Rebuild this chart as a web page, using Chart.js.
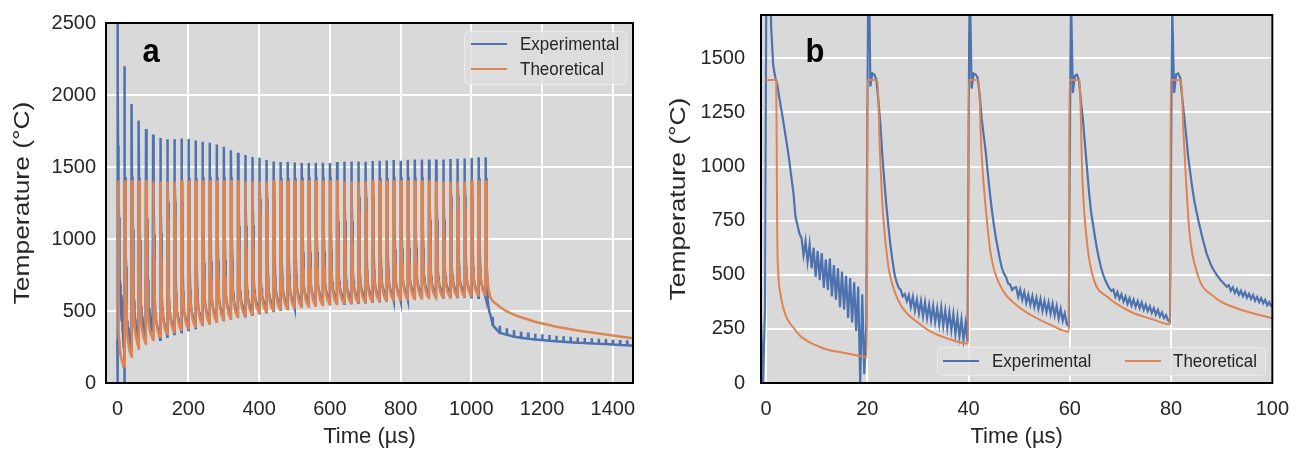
<!DOCTYPE html>
<html>
<head>
<meta charset="utf-8">
<script src="https://cdn.jsdelivr.net/npm/chart.js@4.4.0/dist/chart.umd.min.js"></script>
<style>
html, body { margin: 0; padding: 0; background: #fff; }
#wrap { position: relative; width: 1303px; height: 451px; }
canvas { position: absolute; top: 0; }
#chart-a { left: 0; }
#chart-b { left: 650px; }
</style>
</head>
<body>
<div id="wrap">
  <canvas id="chart-a" width="650" height="451"></canvas>
  <canvas id="chart-b" width="653" height="451"></canvas>
</div>
<script>
// ---- panel b: experimental trace, one sample every 0.4 us starting at -1 us
var bExpStart = -1, bExpStep = 0.4;
var bExp = [
  300, 0, 350, 2750, 2100, 1650, 1470, 1415, 1380, 1320,      // -1.0 ..
  1265, 1210, 1150, 1090, 1025, 950, 880, 770, 730, 690,      // 3.0 ..
  670, 590, 655, 560, 640, 530, 625, 490, 610, 475,           // 7.0 ..
  600, 440, 570, 430, 575, 400, 545, 385, 530, 350,           // 11.0 ..
  515, 340, 495, 300, 485, 280, 465, 240, 445, 0,             // 15.0 ..
  410, 40, 270, 2200, 1370, 1430, 1425, 1400, 1300, 1190,     // 19.0 ..
  1040, 920, 810, 715, 630, 560, 500, 465, 440, 430,          // 23.0 ..
  400, 410, 378, 405, 352, 398, 335, 385, 322, 378,           // 27.0 ..
  308, 372, 300, 360, 290, 355, 282, 345, 272, 348,           // 31.0 ..
  265, 335, 255, 325, 245, 318, 228, 305, 215, 292,           // 35.0 ..
  200, 275, 190, 1937, 1360, 1430, 1425, 1410, 1330, 1220,    // 39.0 ..
  1140, 1065, 970, 880, 800, 730, 670, 620, 570, 530,         // 43.0 ..
  505, 490, 460, 455, 430, 440, 442, 398, 432, 384,           // 47.0 ..
  420, 370, 408, 362, 402, 352, 394, 343, 388, 334,           // 51.0 ..
  378, 328, 372, 320, 366, 312, 356, 298, 342, 288,           // 55.0 ..
  322, 272, 262, 1822, 1340, 1420, 1425, 1400, 1300, 1215,    // 59.0 ..
  1100, 990, 880, 790, 730, 670, 615, 570, 530, 500,          // 63.0 ..
  475, 455, 438, 425, 432, 398, 420, 388, 410, 376,           // 67.0 ..
  400, 366, 392, 358, 385, 352, 378, 346, 372, 338,           // 71.0 ..
  362, 332, 354, 324, 346, 316, 338, 308, 326, 300,           // 75.0 ..
  314, 290, 282, 1764, 1340, 1425, 1430, 1410, 1320, 1230,    // 79.0 ..
  1140, 1040, 970, 900, 840, 795, 750, 710, 670, 635,         // 83.0 ..
  600, 575, 550, 530, 515, 500, 488, 475, 465, 455,           // 87.0 ..
  445, 452, 426, 442, 416, 434, 408, 426, 400, 420,           // 91.0 ..
  394, 412, 388, 406, 380, 398, 374, 392, 368, 384,           // 95.0 ..
  360, 374, 352                                               // 99.0 ..
];

// ---- panel b: theoretical curve
var bTheoT = [0, 2.0, 2.1, 2.2, 2.43, 2.76, 3.4, 4.2, 5.4, 7.0, 8.7, 10.5, 12.0, 15.2, 19.2, 19.95,
  20.0, 22.0, 22.46, 23.1, 24.1, 25.0, 26.1, 27.5, 29.4, 32.6, 35.9, 39.95,
  40.0, 42.0, 42.5, 43.5, 44.5, 46.4, 49.1, 52.4, 56.3, 59.85,
  59.9, 61.9, 62.5, 63.5, 64.8, 67.4, 72.1, 76.0, 79.85,
  79.9, 81.9, 82.6, 83.6, 85.2, 88.5, 93.1, 99.6, 100];
var bTheoV = [1400, 1400, 1100, 700, 500, 423, 348, 295, 256, 212, 187, 168, 155, 140, 123, 121,
  1400, 1400, 1089, 781, 547, 450, 382, 330, 290, 236, 205, 182,
  1400, 1400, 1089, 781, 580, 443, 367, 313, 267, 237,
  1400, 1400, 935, 628, 474, 398, 328, 297, 271,
  1400, 1400, 1089, 705, 505, 398, 344, 302, 300];

// ---- panel a: pulses after the first 100 us (first 100 us are the panel b data)
var aPulseT = [100, 120, 140, 160, 180, 200, 220, 240, 260, 280,
  300, 320, 340, 360, 380, 400, 420, 440, 460, 480,
  500, 520, 540, 560, 580, 600, 620, 640, 660, 680,
  700, 720, 740, 760, 780, 800, 820, 840, 860, 880,
  900, 920, 940, 960, 980, 1000, 1020, 1040];
var aExpPeak = [1725, 1702, 1693, 1693, 1698, 1695, 1684, 1675, 1668, 1656,
  1640, 1617, 1599, 1583, 1569, 1564, 1548, 1539, 1534, 1536,
  1532, 1527, 1527, 1529, 1529, 1527, 1534, 1536, 1539, 1539,
  1536, 1541, 1543, 1546, 1548, 1543, 1550, 1552, 1552, 1552,
  1552, 1552, 1555, 1557, 1559, 1562, 1567, 1567];
var aExpTrough = [300, 322, 340, 355, 368, 382, 395, 408, 418, 430,
  442, 453, 464, 474, 484, 492, 500, 508, 514, 520,
  525, 530, 535, 539, 544, 547, 551, 555, 558, 561,
  565, 567, 571, 573, 568, 579, 583, 585, 587, 591,
  593, 595, 597, 599, 596, 592, 590, 400];
var aTheoTrough = [322, 340, 354, 367, 378, 390, 402, 414, 425, 436,
  447, 458, 468, 478, 488, 496, 503, 510, 516, 522,
  527, 532, 537, 541, 546, 549, 553, 556, 560, 563,
  566, 569, 572, 575, 578, 581, 584, 587, 590, 592,
  595, 597, 600, 602, 605, 607, 609, 570];

var expPlateauDt = [0.8, 1.3, 1.8];
var expPlateauV = [1380, 1430, 1420];
var expDecayDt = [2.5, 3.1, 4.1, 5.1, 6.1, 8.0, 11.3, 14.6, 18.6];
var expDecayFrac = [0.847, 0.654, 0.421, 0.257, 0.179, 0.128, 0.089, 0.065, 0.025];
var theoTop = 1400;
var theoDecayDt = [2.46, 3.1, 4.1, 6.1, 9.4, 12.6, 15.9];
var theoDecayFrac = [0.745, 0.492, 0.300, 0.164, 0.089, 0.044, 0.019];

// after the last pulse
var aTailT = [1060, 1080, 1100, 1120, 1140, 1160, 1180, 1200, 1220, 1240,
  1260, 1280, 1300, 1320, 1340, 1360, 1380, 1400, 1420, 1440];
var aTailBase = [400, 348, 335, 322, 314, 308, 302, 298, 294, 290,
  286, 283, 280, 277, 275, 272, 270, 267, 264, 262];
var aTailPeak = [460, 398, 380, 367, 356, 350, 342, 338, 334, 328,
  324, 321, 316, 313, 311, 307, 305, 302, 298, 296];
var aExpTailEnd = [1460, 258];
var aTheoTailT = [1080, 1100, 1130, 1180, 1240, 1300, 1380, 1440, 1460];
var aTheoTailV = [530, 497, 465, 425, 390, 365, 337, 316, 310];

// ticks
var aXTicks = [0, 200, 400, 600, 800, 1000, 1200, 1400];
var aYTicks = [0, 500, 1000, 1500, 2000, 2500];
var bXTicks = [0, 20, 40, 60, 80, 100];
var bYTicks = [0, 250, 500, 750, 1000, 1250, 1500];

var BLUE = '#4c72b0', ORANGE = '#dd8452', TEXT = '#262626';
var FONT = "'Liberation Sans', Arial, sans-serif";
var STRETCH = 1.2;   // the source figure is a little taller than wide

function pts(xs, ys) {
  return xs.map(function (x, i) { return {x: x, y: ys[i]}; });
}

var bExpPts = bExp.map(function (v, i) { return {x: bExpStart + i * bExpStep, y: v}; });
var bTheoPts = pts(bTheoT, bTheoV);

var aExpPts = bExpPts.slice();
var aTheoPts = bTheoPts.slice();
aPulseT.forEach(function (t, k) {
  var lo = aExpTrough[k];
  var top = expPlateauV[expPlateauV.length - 1];
  aExpPts.push({x: t + 0.3, y: aExpPeak[k]});
  expPlateauDt.forEach(function (dt, j) { aExpPts.push({x: t + dt, y: expPlateauV[j]}); });
  expDecayDt.forEach(function (dt, j) { aExpPts.push({x: t + dt, y: lo + expDecayFrac[j] * (top - lo)}); });
  aExpPts.push({x: t + 20, y: lo});

  var th = aTheoTrough[k];
  aTheoPts.push({x: t + 0.05, y: theoTop}, {x: t + 2, y: theoTop});
  theoDecayDt.forEach(function (dt, j) { aTheoPts.push({x: t + dt, y: th + theoDecayFrac[j] * (theoTop - th)}); });
  aTheoPts.push({x: t + 20, y: th});
});
aTailT.forEach(function (t, j) {
  aExpPts.push({x: t, y: aTailBase[j]}, {x: t + 0.4, y: aTailPeak[j]}, {x: t + 1.2, y: aTailBase[j]});
});
aExpPts.push({x: aExpTailEnd[0], y: aExpTailEnd[1]});
aTheoPts = aTheoPts.concat(pts(aTheoTailT, aTheoTailV));

function lineSet(label, color, data, order, smooth, width) {
  return {
    label: label, data: data, borderColor: color, backgroundColor: color,
    borderWidth: width, pointRadius: 0, fill: false, order: order, clip: 0,
    tension: 0, cubicInterpolationMode: smooth ? 'monotone' : 'default'
  };
}

// background, frame, y title, panel letter and legend
var panelPlugin = {
  id: 'panel',
  beforeDraw: function (chart) {
    var a = chart.chartArea, ctx = chart.ctx;
    ctx.save();
    ctx.fillStyle = '#d9d9d9';
    ctx.fillRect(a.left, a.top, a.right - a.left, a.bottom - a.top);
    ctx.restore();
  },
  afterDatasetsDraw: function (chart, args, opts) {
    var ctx = chart.ctx, a = chart.chartArea, lg = opts.legend;
    ctx.save();
    ctx.fillStyle = 'rgba(222,222,222,0.82)';
    ctx.strokeStyle = 'rgba(236,236,236,0.9)';
    ctx.lineWidth = 1;
    ctx.beginPath();
    ctx.roundRect(lg.x + 0.5, lg.y + 0.5, lg.w, lg.h, 4);
    ctx.fill();
    ctx.stroke();
    lg.items.forEach(function (it) {
      var ds = chart.data.datasets[it.ds];
      ctx.strokeStyle = ds.borderColor;
      ctx.lineWidth = 2;
      ctx.beginPath();
      ctx.moveTo(lg.x + it.lx, lg.y + it.y);
      ctx.lineTo(lg.x + it.lx + 36, lg.y + it.y);
      ctx.stroke();
      ctx.save();
      ctx.translate(lg.x + it.tx, lg.y + it.y + 1);
      ctx.scale(1, 1.12);
      ctx.font = '17px ' + FONT;
      ctx.textBaseline = 'middle';
      ctx.textAlign = 'left';
      ctx.fillStyle = TEXT;
      ctx.fillText(ds.label, 0, 0);
      ctx.restore();
    });
    ctx.translate(a.left + opts.letterDx, a.top + opts.letterDy);
    ctx.scale(1, 1.06);
    ctx.fillStyle = '#000';
    ctx.font = 'bold 31px ' + FONT;
    ctx.textAlign = 'center';
    ctx.textBaseline = 'middle';
    ctx.fillText(opts.letter, 0, 0);
    ctx.restore();
  },
  afterDraw: function (chart, args, opts) {
    var a = chart.chartArea, ctx = chart.ctx;
    ctx.save();
    ctx.strokeStyle = '#000';
    ctx.lineWidth = 2;
    ctx.strokeRect(a.left, a.top, a.right - a.left, a.bottom - a.top);
    ctx.translate(opts.yTitleX, (a.top + a.bottom) / 2);
    ctx.rotate(-Math.PI / 2);
    ctx.scale(STRETCH, 1);
    ctx.fillStyle = TEXT;
    ctx.font = '22px ' + FONT;
    ctx.textAlign = 'center';
    ctx.textBaseline = 'middle';
    ctx.fillText(opts.yTitle, 0, 0);
    ctx.restore();
  }
};

function axis(min, max, ticks, title, fitSize, tickPad, horizontal) {
  return {
    type: 'linear', min: min, max: max,
    afterBuildTicks: function (s) { s.ticks = ticks.map(function (v) { return {value: v}; }); },
    afterFit: function (s) {
      if (horizontal) { s.height = fitSize; } else { s.width = fitSize; s.paddingTop = 0; s.paddingBottom = 0; }
    },
    grid: {color: '#ffffff', lineWidth: 2, drawTicks: false},
    border: {display: false},
    ticks: {
      color: TEXT, font: {family: FONT, size: 20}, padding: tickPad,
      maxRotation: 0, autoSkip: false,
      callback: function (v) { return String(v); }
    },
    title: {display: horizontal, text: title, color: TEXT, font: {family: FONT, size: 22}, padding: {top: 0, bottom: 1}}
  };
}

new Chart(document.getElementById('chart-a'), {
  type: 'line',
  data: {
    datasets: [
      lineSet('Experimental', BLUE, aExpPts, 1, false, 2.5),
      lineSet('Theoretical', ORANGE, aTheoPts, 0, false, 2.5)
    ]
  },
  options: {
    responsive: false, animation: false, devicePixelRatio: 1, parsing: false,
    layout: {padding: {top: 23, right: 17, bottom: 0, left: 0}},
    scales: {
      x: axis(-33, 1457, aXTicks, 'Time (µs)', 68, 14, true),
      y: axis(0, 2500, aYTicks, 'Temperature (°C)', 106, 10, false)
    },
    plugins: {
      legend: {display: false}, tooltip: {enabled: false},
      panel: {
        letter: 'a', letterDx: 45, letterDy: 30, yTitle: 'Temperature (°C)', yTitleX: 23,
        legend: {x: 464, y: 31, w: 162, h: 53, items: [
          {ds: 0, lx: 7, tx: 56, y: 13},
          {ds: 1, lx: 7, tx: 56, y: 38}
        ]}
      }
    }
  },
  plugins: [panelPlugin]
});

new Chart(document.getElementById('chart-b'), {
  type: 'line',
  data: {
    datasets: [
      lineSet('Experimental', BLUE, bExpPts, 1, false, 2.2),
      lineSet('Theoretical', ORANGE, bTheoPts, 0, true, 2)
    ]
  },
  options: {
    responsive: false, animation: false, devicePixelRatio: 1, parsing: false,
    layout: {padding: {top: 15, right: 30, bottom: 0, left: 0}},
    scales: {
      x: axis(-1, 100, bXTicks, 'Time (µs)', 68, 14, true),
      y: axis(0, 1700, bYTicks, 'Temperature (°C)', 111, 16, false)
    },
    plugins: {
      legend: {display: false}, tooltip: {enabled: false},
      panel: {
        letter: 'b', letterDx: 54, letterDy: 38, yTitle: 'Temperature (°C)', yTitleX: 29,
        legend: {x: 287, y: 347, w: 328, h: 28, items: [
          {ds: 0, lx: 6, tx: 55, y: 14},
          {ds: 1, lx: 188, tx: 236, y: 14}
        ]}
      }
    }
  },
  plugins: [panelPlugin]
});
</script>
</body>
</html>
